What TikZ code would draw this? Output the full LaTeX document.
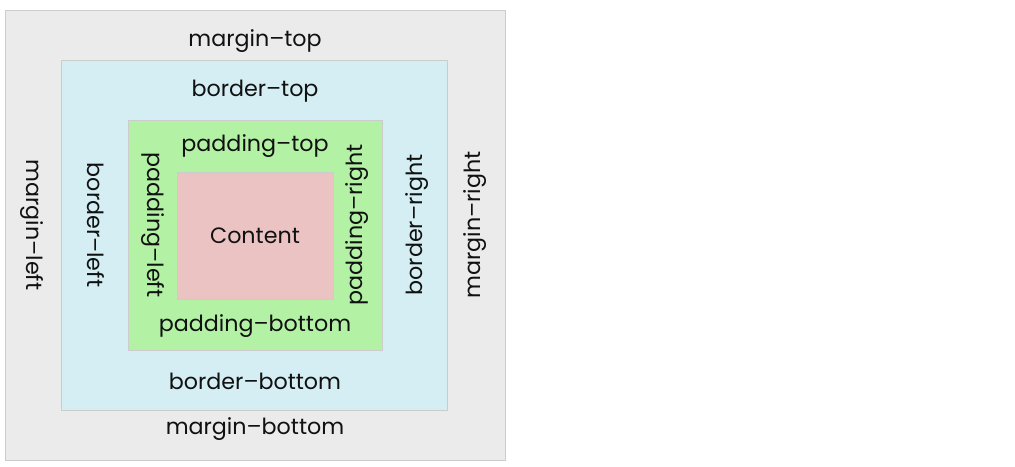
\documentclass[tikz,border=0pt]{standalone}
\usepackage{fontspec}
\setmainfont{Poppins}
\usepackage{xcolor}
\definecolor{marginfill}{HTML}{EBEBEB}
\definecolor{borderfill}{HTML}{D4EEF4}
\definecolor{paddingfill}{HTML}{B3F2A5}
\definecolor{contentfill}{HTML}{EBC3C3}
\definecolor{boxedge}{HTML}{CCCCCC}
\definecolor{labelink}{HTML}{111111}
\usetikzlibrary{positioning}
\newcommand{\boxlayer}[6]{% name, x-left, y-top, x-right, y-bottom, fill
  \node[layer, fill=#6, minimum width=(#4-#2)*0.025cm, minimum height=(#5-#3)*0.025cm]
    (#1) at ({(#2+#4)/2},{(#3+#5)/2}) {};
}

\begin{document}
\begin{tikzpicture}[x=0.025cm, y=-0.025cm,
    layer/.style={draw=boxedge, line width=0.6pt, inner sep=0pt, outer sep=0pt},
    lbl/.style={font=\fontsize{15.8}{19}\selectfont, text=labelink, inner sep=0pt}]
  \useasboundingbox[fill=white] (0,0) rectangle (1015,467);

  % nested boxes, outside in
  \boxlayer{margin}{5}{10}{505}{460}{marginfill}
  \boxlayer{border}{61}{60}{447}{410}{borderfill}
  \boxlayer{padding}{128}{120}{382}{350}{paddingfill}
  \boxlayer{content}{177}{172}{333}{299}{contentfill}

  % top / bottom labels
  \node[lbl] (mtop) at (255,41)  {margin–top};
  \node[lbl] (btop) at (255,91)  {border–top};
  \node[lbl] (ptop) at (255,146) {padding–top};
  \node[lbl] (ctext) at (content.center) {Content};
  \node[lbl] (pbot) at (255,326) {padding–bottom};
  \node[lbl] (bbot) at (255,381) {border–bottom};
  \node[lbl] (mbot) at (255,429) {margin–bottom};

  % side labels
  \node[lbl, rotate=-90] (mleft)  at (32,225)  {margin–left};
  \node[lbl, rotate=-90] (bleft)  at (96,225)  {border–left};
  \node[lbl, rotate=-90] (pleft)  at (153,225) {padding–left};
  \node[lbl, rotate=90]  (pright) at (357,225) {padding–right};
  \node[lbl, rotate=90]  (bright) at (417,225) {border–right};
  \node[lbl, rotate=90]  (mright) at (475,225) {margin–right};
\end{tikzpicture}
\end{document}
